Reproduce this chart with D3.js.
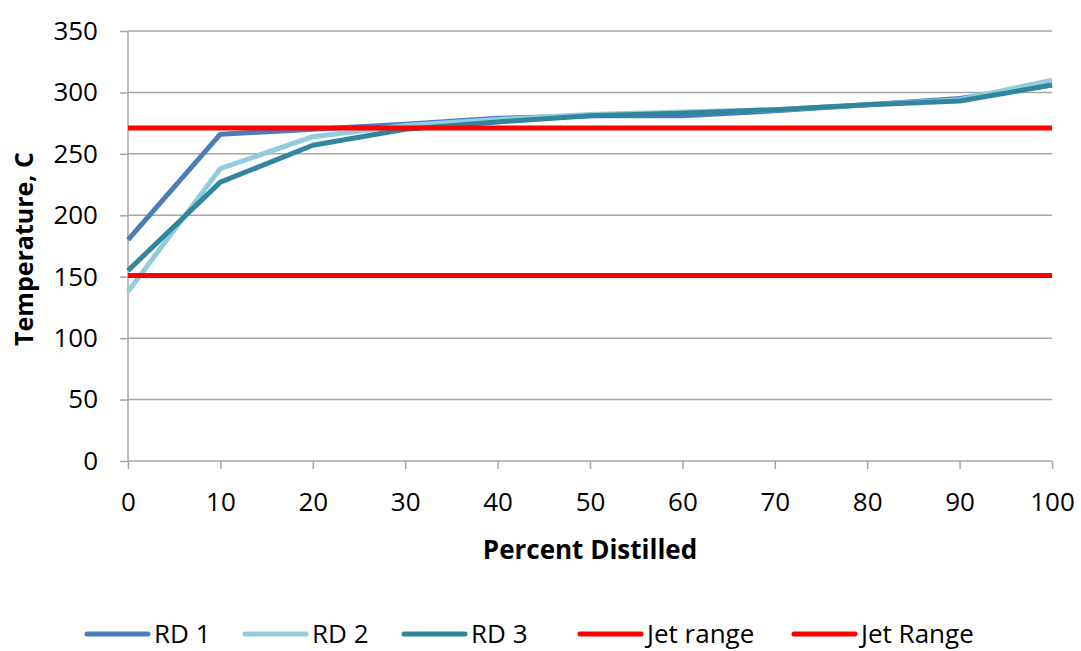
<!DOCTYPE html>
<html>
<head>
<meta charset="utf-8">
<script src="https://cdn.jsdelivr.net/npm/d3@7"></script>
<style>
  body { margin: 0; background: #fff; }
  text { font-family: "Open Sans", "Liberation Sans", sans-serif; fill: #000; }
</style>
</head>
<body>
<svg id="chart" width="1081" height="651"></svg>
<script>
var percents = [0, 10, 20, 30, 40, 50, 60, 70, 80, 90, 100];
var rd1 = [180, 266, 270, 274, 279, 281, 281, 285, 290, 295, 306];
var rd2 = [138, 238, 264, 273, 278, 282, 284, 286, 290, 294, 310];
var rd3 = [155, 227, 257, 270, 276, 281, 283, 286, 290, 293, 306];
var jetLow = [151, 151, 151, 151, 151, 151, 151, 151, 151, 151, 151];
var jetHigh = [271, 271, 271, 271, 271, 271, 271, 271, 271, 271, 271];
var yTicks = [0, 50, 100, 150, 200, 250, 300, 350];

var series = [
    {name: "RD 1", values: rd1, color: "#4a7ebb"},
    {name: "RD 2", values: rd2, color: "#93cddd"},
    {name: "RD 3", values: rd3, color: "#31859c"},
    {name: "Jet range", values: jetHigh, color: "#ff0000"},
    {name: "Jet Range", values: jetLow, color: "#ff0000"}
];

var svg = d3.select("#chart");
var plotLeft = 128, plotRight = 1052, plotTop = 31, plotBottom = 461;

var x = d3.scaleLinear().domain([0, 100]).range([plotLeft, plotRight]);
var y = d3.scaleLinear().domain([0, 350]).range([plotBottom, plotTop]);

// gridlines
svg.append("g").selectAll("line").data(yTicks.slice(1)).enter().append("line")
    .attr("x1", plotLeft).attr("x2", plotRight)
    .attr("y1", function (d) { return y(d); })
    .attr("y2", function (d) { return y(d); })
    .attr("stroke", "#a6a6a6").attr("stroke-width", 1.5);

var yAxis = svg.append("g").attr("transform", "translate(" + plotLeft + ",0)")
    .call(d3.axisLeft(y).tickValues(yTicks).tickSize(8).tickPadding(22));
var xAxis = svg.append("g").attr("transform", "translate(0," + plotBottom + ")")
    .call(d3.axisBottom(x).tickValues(percents).tickSize(8).tickPadding(24));

[yAxis, xAxis].forEach(function (ax) {
    ax.selectAll("path, line").attr("stroke", "#a6a6a6").attr("stroke-width", 1.5);
    ax.selectAll("text").style("font-size", "26px").style("font-family", "'Open Sans', sans-serif").attr("fill", "#000");
});
xAxis.select(".domain").attr("d", "M" + plotLeft + ",0H" + plotRight);
yAxis.select(".domain").attr("d", "M0," + plotTop + "V" + plotBottom);

var line = d3.line()
    .x(function (d, i) { return x(percents[i]); })
    .y(function (d) { return y(d); });

svg.append("g").selectAll("path").data(series).enter().append("path")
    .attr("d", function (s) { return line(s.values); })
    .attr("fill", "none")
    .attr("stroke", function (s) { return s.color; })
    .attr("stroke-width", 5)
    .attr("stroke-linejoin", "round");

svg.append("text")
    .attr("x", 590).attr("y", 559)
    .attr("text-anchor", "middle")
    .style("font-size", "26px").style("font-weight", "bold")
    .text("Percent Distilled");

svg.append("text")
    .attr("transform", "translate(33," + ((plotTop + plotBottom) / 2 + 3) + ") rotate(-90)")
    .attr("text-anchor", "middle")
    .style("font-size", "25px").style("font-weight", "bold")
    .text("Temperature, C");

// legend
var legendX = [87, 245, 404, 580, 794];
var legend = svg.append("g").selectAll("g").data(series).enter().append("g")
    .attr("transform", function (s, i) { return "translate(" + legendX[i] + ",634)"; });
legend.append("line")
    .attr("x1", 0).attr("x2", 61)
    .attr("stroke", function (s) { return s.color; })
    .attr("stroke-width", 5).attr("stroke-linecap", "round");
legend.append("text")
    .attr("x", 67).attr("y", 9)
    .style("font-size", "26px")
    .text(function (s) { return s.name; });
</script>
</body>
</html>
